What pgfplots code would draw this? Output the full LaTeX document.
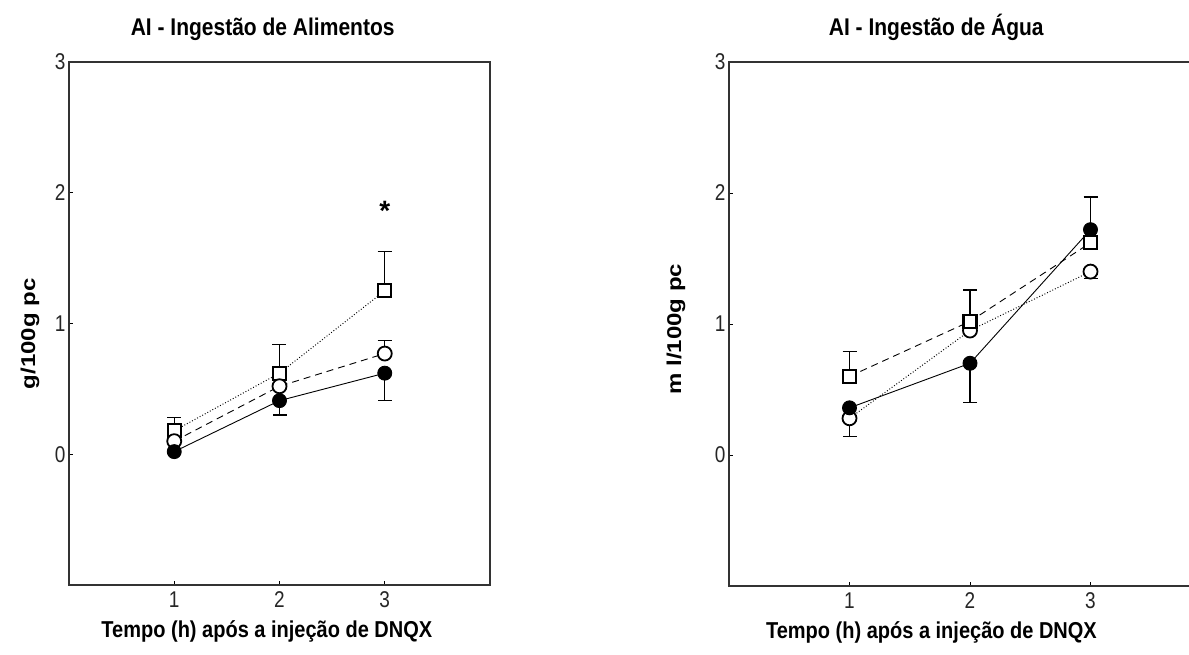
\documentclass[border=0pt]{standalone}
\usepackage{pgfplots}
\pgfplotsset{compat=1.18}
\usepackage{graphicx}
\usepackage{fontspec}
\setmainfont{Liberation Sans}

\begin{document}
\begin{tikzpicture}
\clip (0pt,0pt) rectangle (1189pt,655pt);
\pgfplotsset{
 myax/.style={scale only axis, xmin=0, xmax=4, ymin=-1, ymax=3,
   xtick={1,2,3}, ytick={0,1,2,3},
   xticklabel={\scalebox{1}[1.2]{\pgfmathprintnumber{\tick}}},
   yticklabel={\scalebox{1}[1.2]{\pgfmathprintnumber{\tick}}},
   xticklabel style={yshift=-3pt},
   axis line style={line width=1.3pt, black!80},
   tick style={black, line width=0.6pt}, major tick length=4pt,
   tick pos=left, tick align=inside,
   ticklabel style={font=\fontsize{19}{21}\selectfont, black!85},
   /pgf/number format/assume math mode=true,
   label style={font=\bfseries\fontsize{20}{22}\selectfont},
   title style={font=\bfseries\fontsize{21}{24}\selectfont},
   clip=false},
 eb/.style={draw=none, mark=none, forget plot,
   /pgfplots/error bars/y explicit,
   /pgfplots/error bars/error bar style={draw=black, solid, line width=1.2pt},
   /pgfplots/error bars/error mark options={draw=black, solid, line width=1.2pt, mark size=7pt, rotate=90}},
 sqr/.style={black, line width=0.9pt, mark=square*, mark size=6.5pt, mark options={solid, fill=white, line width=2.2pt}},
 ocirc/.style={black, line width=0.9pt, mark=*, mark size=7pt, mark options={solid, fill=white, line width=1.8pt}},
 fcirc/.style={black, line width=0.9pt, mark=*, mark size=7pt, mark options={solid, fill=black}},
}
% ---------------- left panel ----------------
\begin{axis}[myax, at={(69pt,70pt)}, anchor=south west, width=421pt, height=523pt,
  title={\scalebox{1}[1.15]{AI - Ingestão de Alimentos}},
  title style={at={(0.46,1)}, anchor=base, yshift=20pt},
  xlabel={\scalebox{1}[1.15]{Tempo (h) após a injeção de DNQX}},
  xlabel style={at={(0.47,0)}, anchor=base, yshift=-53pt},
  ylabel={\scalebox{1.2}[1]{g/100g pc}},
  ylabel style={at={(0,0.48)}, anchor=center, yshift=39pt}]
 % error bars
 \addplot[eb, /pgfplots/error bars/y dir=plus] coordinates {
   (1,0.18) +- (0,0.10)
   (2,0.62) +- (0,0.22)
   (3,1.25) +- (0,0.30)
   (3,0.77) +- (0,0.10)
 };
 \addplot[eb, /pgfplots/error bars/y dir=minus] coordinates {
   (2,0.41) +- (0,0.11)
   (3,0.62) +- (0,0.21)
 };
 % series
 \addplot[sqr, dotted, line width=1pt] coordinates {(1,0.18) (2,0.62) (3,1.25)};
 \addplot[ocirc, dash pattern=on 7pt off 5pt] coordinates {(1,0.10) (2,0.52) (3,0.77)};
 \addplot[fcirc] coordinates {(1,0.02) (2,0.41) (3,0.62)};
 \node[font=\bfseries\fontsize{28}{28}\selectfont] at (axis cs:3,1.86) {*};
\end{axis}
% ---------------- right panel ----------------
\begin{axis}[myax, at={(729pt,69pt)}, anchor=south west, width=482pt, height=524pt,
  title={\scalebox{1}[1.15]{AI - Ingestão de Água}},
  title style={at={(0.43,1)}, anchor=base, yshift=20pt},
  xlabel={\scalebox{1}[1.15]{Tempo (h) após a injeção de DNQX}},
  xlabel style={at={(0.42,0)}, anchor=base, yshift=-53pt},
  ylabel={\scalebox{1.2}[1]{m l/100g pc}},
  ylabel style={at={(0,0.49)}, anchor=center, yshift=53pt}]
 \addplot[eb, /pgfplots/error bars/y dir=plus] coordinates {
   (1,0.60) +- (0,0.19)
   (2,1.02) +- (0,0.24)
   (3,1.72) +- (0,0.25)
 };
 \addplot[eb, /pgfplots/error bars/y dir=minus] coordinates {
   (1,0.28) +- (0,0.14)
   (2,0.70) +- (0,0.30)
   (3,1.40) +- (0,0.05)
 };
 \addplot[ocirc, dotted, line width=1pt] coordinates {(1,0.28) (2,0.95) (3,1.40)};
 \addplot[fcirc] coordinates {(1,0.36) (2,0.70) (3,1.72)};
 \addplot[sqr, dash pattern=on 7pt off 5pt] coordinates {(1,0.60) (2,1.02) (3,1.62)};
\end{axis}
\end{tikzpicture}
\end{document}
